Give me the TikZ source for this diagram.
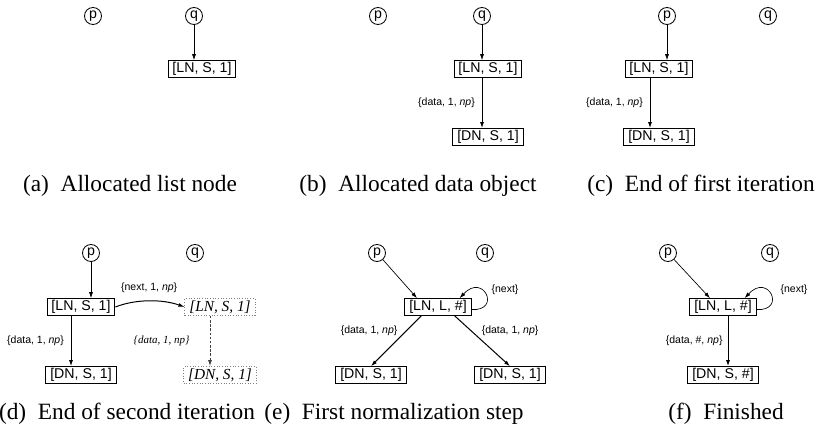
\documentclass[tikz,border=0pt]{standalone}
\usepackage{fontspec}
\setmainfont{Liberation Serif}
\setsansfont{Liberation Sans}
\usetikzlibrary{arrows.meta}

\begin{document}
\begin{tikzpicture}[x=0.6pt,y=-0.6pt,
    var/.style={circle,draw,line width=0.5pt,inner sep=0pt,minimum size=10.2pt,font=\sffamily\fontsize{8.5}{8.5}\selectfont},
    obj/.style={draw,line width=0.6pt,inner xsep=2.6pt,inner ysep=0pt,minimum height=10pt,font=\sffamily\fontsize{8.5}{8.5}\selectfont},
    ghost/.style={obj,draw=gray,densely dotted,font=\rmfamily\itshape\fontsize{9.2}{9.2}\selectfont},
    ptr/.style={-{Latex[length=3.6pt,width=2.4pt]},line width=0.4pt},
    sel/.style={ptr,line width=0.6pt},
    lbl/.style={font=\sffamily\fontsize{6.3}{6.3}\selectfont,inner sep=1pt},
    ilbl/.style={font=\rmfamily\itshape\fontsize{6.6}{6.6}\selectfont,inner sep=1pt},
    subcap/.style={font=\rmfamily\fontsize{14}{14}\selectfont,anchor=base}]
        \useasboundingbox (0,0) rectangle (826,436);

        % (a) Allocated list node
        \node[var] (a-p) at (93,16) {p};
        \node[var] (a-q) at (194,16) {q};
        \node[obj] (a-ln) at (202,69) {[LN, S, 1]};
        \draw[ptr] (a-q) -- (a-q |- a-ln.north);
        \node[subcap] (a-cap) at (130,191) {(a)\enspace Allocated list node};

        % (b) Allocated data object
        \node[var] (b-p) at (378,16) {p};
        \node[var] (b-q) at (482,16) {q};
        \node[obj] (b-ln) at (488,69) {[LN, S, 1]};
        \node[obj] (b-dn) at (488,137) {[DN, S, 1]};
        \draw[ptr] (b-q) -- (b-q |- b-ln.north);
        \draw[sel] (b-q |- b-ln.south) -- (b-q |- b-dn.north)
            node[lbl,midway,left=3pt] {\{data, 1, \textit{np}\}};
        \node[subcap] (b-cap) at (418,191) {(b)\enspace Allocated data object};

        % (c) End of first iteration
        \node[var] (c-p) at (667,16) {p};
        \node[var] (c-q) at (768,16) {q};
        \node[obj] (c-ln) at (659,69) {[LN, S, 1]};
        \node[obj] (c-dn) at (659,137) {[DN, S, 1]};
        \draw[ptr] (c-p) -- (c-p |- c-ln.north);
        \draw[sel] ([xshift=-5.4pt]c-ln.south) -- ([xshift=-5.4pt]c-dn.north)
            node[lbl,midway,left=3pt] {\{data, 1, \textit{np}\}};
        \node[subcap] (c-cap) at (701,191) {(c)\enspace End of first iteration};

        % (d) End of second iteration
        \node[var] (d-p) at (91,253) {p};
        \node[var] (d-q) at (195,253) {q};
        \node[obj] (d-ln) at (81,307) {[LN, S, 1]};
        \node[obj] (d-dn) at (81,375) {[DN, S, 1]};
        \node[ghost] (d-ln2) at (220,307) {[LN, S, 1]};
        \node[ghost] (d-dn2) at (220,375) {[DN, S, 1]};
        \draw[ptr] (d-p) -- (d-p |- d-ln.north);
        \draw[sel] ([xshift=-6pt]d-ln.south) -- ([xshift=-6pt]d-dn.north)
            node[lbl,midway,left=3pt] {\{data, 1, \textit{np}\}};
        \draw[sel] (d-ln.east) .. controls +(20,-8) and +(-22,-8) .. (d-ln2.west)
            node[lbl,midway,above=4pt] {\{next, 1, \textit{np}\}};
        \draw[sel,draw=black!75,dash pattern=on 1.5pt off 1pt] ([xshift=-6pt]d-ln2.south) -- ([xshift=-6pt]d-dn2.north)
            node[ilbl,midway,left=11pt] {\{data, 1, np\}};
        \node[subcap] (d-cap) at (127,419) {(d)\enspace End of second iteration};

        % (e) First normalization step
        \node[var] (e-p) at (377,253) {p};
        \node[var] (e-q) at (485,253) {q};
        \node[obj] (e-ln) at (438,307) {[LN, L, \#]};
        \node[obj] (e-dl) at (371,375) {[DN, S, 1]};
        \node[obj] (e-dr) at (510,375) {[DN, S, 1]};
        \draw[ptr] (e-p) -- ([xshift=-12.6pt]e-ln.north);
        \draw[ptr] ([yshift=-1.5pt]e-ln.east) .. controls +(30,2) and +(24,-26) .. ([xshift=13pt]e-ln.north);
        \node[lbl] (e-next) at (505,290) {\{next\}};
        \draw[sel] ([xshift=-10pt]e-ln.south) -- (e-dl.north)
            node[lbl,pos=0.3,anchor=east,xshift=-4pt] {\{data, 1, \textit{np}\}};
        \draw[sel] ([xshift=10pt]e-ln.south) -- (e-dr.north)
            node[lbl,pos=0.3,anchor=west,xshift=5pt] {\{data, 1, \textit{np}\}};
        \node[subcap] (e-cap) at (394,419) {(e)\enspace First normalization step};

        % (f) Finished
        \node[var] (f-p) at (668,253) {p};
        \node[var] (f-q) at (770,253) {q};
        \node[obj] (f-ln) at (723,307) {[LN, L, \#]};
        \node[obj] (f-dn) at (723,375) {[DN, S, \#]};
        \draw[ptr] (f-p) -- ([xshift=-7.8pt]f-ln.north);
        \draw[ptr] ([yshift=-1.5pt]f-ln.east) .. controls +(30,2) and +(24,-26) .. ([xshift=13pt]f-ln.north);
        \node[lbl] (f-next) at (794,290) {\{next\}};
        \draw[sel] ([xshift=3pt]f-ln.south) -- ([xshift=3pt]f-dn.north)
            node[lbl,midway,left=2pt] {\{data, \#, \textit{np}\}};
        \node[subcap] (f-cap) at (726,419) {(f)\enspace Finished};
\end{tikzpicture}
\end{document}
